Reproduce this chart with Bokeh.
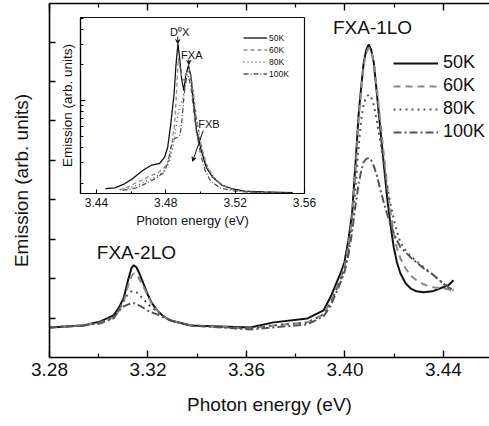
from bokeh.plotting import figure
from bokeh.models import (Range1d, LinearAxis, FixedTicker, Legend, LegendItem,
                          Label, Arrow, VeeHead)
from bokeh.embed import file_html
from bokeh.resources import INLINE

FONT = "Liberation Sans"

# ---------------- main spectrum data ----------------
temps = ["50K", "60K", "80K", "100K"]
energy = [3.2800, 3.2938, 3.3007, 3.3060, 3.3080, 3.3101, 3.3121, 3.3133, 3.3142, 3.3153,
          3.3163, 3.3178, 3.3197, 3.3214, 3.3237, 3.3263, 3.3291, 3.3373, 3.3616, 3.3710,
          3.3848, 3.3913, 3.3941, 3.3982, 3.3998, 3.4014, 3.4029, 3.4043, 3.4056, 3.4067,
          3.4076, 3.4087, 3.4097, 3.4106, 3.4117, 3.4130, 3.4144, 3.4158, 3.4171, 3.4185,
          3.4198, 3.4211, 3.4225, 3.4246, 3.4266, 3.4290, 3.4319, 3.4355, 3.4388, 3.4420,
          3.4441]
em_50K = [0.763, 0.814, 0.916, 1.069, 1.247, 1.501, 2.010, 2.265, 2.341, 2.290,
          2.163, 1.934, 1.628, 1.399, 1.196, 1.043, 0.941, 0.814, 0.763, 0.891,
          0.992, 1.196, 1.527, 2.137, 2.417, 2.977, 3.664, 4.936, 6.209, 6.921,
          7.481, 7.812, 7.939, 7.812, 7.481, 6.667, 5.776, 4.885, 4.071, 3.359,
          2.799, 2.417, 2.137, 1.883, 1.756, 1.679, 1.654, 1.679, 1.756, 1.832,
          1.959]
em_60K = [0.763, 0.814, 0.891, 1.018, 1.170, 1.399, 1.858, 2.061, 2.137, 2.112,
          2.010, 1.832, 1.603, 1.374, 1.196, 1.043, 0.941, 0.814, 0.738, 0.814,
          0.891, 1.094, 1.399, 2.010, 2.290, 2.850, 3.537, 4.758, 6.081, 6.845,
          7.405, 7.735, 7.863, 7.786, 7.506, 6.794, 5.980, 5.140, 4.377, 3.690,
          3.155, 2.774, 2.519, 2.265, 2.087, 1.959, 1.858, 1.781, 1.756, 1.730,
          1.679]
em_80K = [0.763, 0.814, 0.891, 1.018, 1.196, 1.450, 1.628, 1.679, 1.679, 1.654,
          1.603, 1.501, 1.374, 1.272, 1.170, 1.043, 0.941, 0.814, 0.738, 0.814,
          0.891, 1.094, 1.374, 1.959, 2.265, 2.723, 3.359, 4.300, 5.394, 6.081,
          6.438, 6.616, 6.667, 6.616, 6.412, 5.980, 5.471, 4.885, 4.351, 3.893,
          3.511, 3.181, 2.926, 2.723, 2.570, 2.443, 2.290, 2.112, 1.934, 1.781,
          1.705]
em_100K = [0.763, 0.814, 0.865, 0.992, 1.170, 1.298, 1.349, 1.374, 1.374, 1.361,
           1.323, 1.272, 1.196, 1.145, 1.094, 1.018, 0.941, 0.814, 0.712, 0.763,
           0.840, 1.043, 1.298, 1.908, 2.163, 2.595, 3.181, 3.868, 4.427, 4.758,
           4.962, 5.038, 5.064, 5.013, 4.860, 4.606, 4.249, 3.919, 3.639, 3.384,
           3.155, 2.977, 2.799, 2.672, 2.545, 2.417, 2.265, 2.112, 1.934, 1.781,
           1.705]
main_ticks = [3.28, 3.32, 3.36, 3.40, 3.44]
main_minor = [3.30, 3.34, 3.38, 3.42]
main_tick_labels = ["3.28", "3.32", "3.36", "3.40", "3.44"]
main_y_ticks = [1, 2, 3, 4, 5, 6, 7, 8]
peak_names = ["FXA-2LO", "FXA-1LO"]
peak_x = [3.3153, 3.4112]
peak_y = [2.67, 8.37]

# ---------------- inset data (log intensity) ----------------
ins_x_50K = [3.4451, 3.4506, 3.4562, 3.4608, 3.4654, 3.4682, 3.4719, 3.4765, 3.4793, 3.4811,
             3.4829, 3.4848, 3.4858, 3.4870, 3.4880, 3.4891, 3.4904, 3.4915, 3.4931, 3.4944,
             3.4959, 3.4977, 3.5005, 3.5033, 3.5070, 3.5125, 3.5181, 3.5254, 3.5365, 3.5531]
ins_y_50K = [0.179, 0.182, 0.197, 0.217, 0.247, 0.264, 0.284, 0.294, 0.331, 0.402,
             0.638, 1.146, 1.942, 3.024, 2.270, 1.536, 1.215, 1.628, 1.980, 1.628,
             1.000, 0.557, 0.377, 0.272, 0.224, 0.191, 0.179, 0.171, 0.168, 0.166]
ins_x_60K = [3.4534, 3.4589, 3.4635, 3.4682, 3.4700, 3.4756, 3.4793, 3.4817, 3.4833, 3.4850,
             3.4861, 3.4872, 3.4883, 3.4894, 3.4902, 3.4914, 3.4933, 3.4944, 3.4961, 3.4977,
             3.5005, 3.5033, 3.5071, 3.5127, 3.5199, 3.5310, 3.5531]
ins_y_60K = [0.175, 0.187, 0.203, 0.218, 0.227, 0.245, 0.271, 0.310, 0.415, 0.614,
             1.102, 2.270, 1.867, 1.536, 1.477, 1.661, 1.867, 1.661, 1.102, 0.704,
             0.415, 0.292, 0.227, 0.191, 0.173, 0.166, 0.163]
ins_x_80K = [3.4534, 3.4589, 3.4654, 3.4700, 3.4756, 3.4793, 3.4822, 3.4844, 3.4866, 3.4883,
             3.4897, 3.4911, 3.4927, 3.4941, 3.4955, 3.4972, 3.4994, 3.5016, 3.5049, 3.5105,
             3.5171, 3.5254, 3.5420, 3.5531]
ins_y_80K = [0.176, 0.181, 0.197, 0.212, 0.231, 0.255, 0.310, 0.415, 0.704, 0.925,
             1.000, 1.340, 1.761, 1.694, 1.264, 0.791, 0.476, 0.342, 0.250, 0.202,
             0.180, 0.169, 0.165, 0.163]
ins_x_100K = [3.4551, 3.4628, 3.4682, 3.4737, 3.4789, 3.4811, 3.4828, 3.4844, 3.4866, 3.4883,
              3.4894, 3.4905, 3.4919, 3.4930, 3.4944, 3.4961, 3.4977, 3.4999, 3.5027, 3.5060,
              3.5116, 3.5199, 3.5365, 3.5531]
ins_y_100K = [0.173, 0.182, 0.197, 0.217, 0.245, 0.292, 0.392, 0.467, 0.486, 0.515,
              0.704, 1.102, 1.536, 1.597, 1.340, 0.823, 0.536, 0.362, 0.255, 0.206,
              0.181, 0.171, 0.165, 0.163]
ins_ticks = [3.44, 3.48, 3.52, 3.56]
ins_minor = [3.46, 3.50, 3.54]
ins_y_major = [1.0]
ins_y_minor = [0.2, 0.3, 0.4, 0.5, 0.6, 0.7, 0.8, 0.9, 2.0, 3.0, 4.0, 5.0]
ins_names = ["D\u2070X", "FXA", "FXB"]
ins_lab_x = [3.4880, 3.4950, 3.5049]
ins_lab_y = [3.84, 2.45, 0.638]
ins_arrow_from = [(3.4869, 3.49), (3.4933, 2.23), (3.5016, 0.557)]
ins_arrow_to = [(3.4869, 3.04), (3.4933, 2.02), (3.4955, 0.306)]

styles_main = [dict(color="#111111", line_width=2.0, line_dash="solid"),
               dict(color="#8a8a8a", line_width=2.0, line_dash="7 5"),
               dict(color="#555555", line_width=2.0, line_dash="2 4"),
               dict(color="#555555", line_width=2.0, line_dash="8 3 2 3")]
styles_ins = [dict(color="#111111", line_width=1.3, line_dash="solid"),
              dict(color="#8a8a8a", line_width=1.3, line_dash="4 3"),
              dict(color="#555555", line_width=1.3, line_dash="1 3"),
              dict(color="#555555", line_width=1.3, line_dash="5 2 1 2")]


def hide_labels(axis):
    axis.major_label_text_font_size = "1px"
    axis.major_label_text_color = None
    axis.major_label_standoff = 0


# ---------------- main figure ----------------
p = figure(width=489, height=424, x_range=Range1d(3.28, 3.4587), y_range=Range1d(0, 8.98),
           output_backend="svg", toolbar_location=None,
           min_border_left=49, min_border_right=0, min_border_top=3, min_border_bottom=67)
p.outline_line_color = None
p.grid.visible = False
p.background_fill_color = "white"
p.border_fill_color = "white"

xa = p.xaxis[0]
xa.ticker = FixedTicker(ticks=main_ticks, minor_ticks=main_minor)
xa.major_label_overrides = {t: s for t, s in zip(main_ticks, main_tick_labels)}
xa.major_tick_in = 7
xa.major_tick_out = 0
xa.minor_tick_in = 4
xa.minor_tick_out = 0
xa.axis_line_width = 1.6
xa.major_tick_line_width = 1.4
xa.minor_tick_line_width = 1.2
xa.major_label_text_font = FONT
xa.major_label_text_font_size = "19px"
xa.major_label_text_color = "#111111"
xa.major_label_standoff = 5
xa.axis_label = "Photon energy (eV)"
xa.axis_label_text_font = FONT
xa.axis_label_text_font_size = "19px"
xa.axis_label_text_font_style = "normal"
xa.axis_label_text_color = "#111111"
xa.axis_label_standoff = 15

ya = p.yaxis[0]
ya.ticker = FixedTicker(ticks=main_y_ticks, minor_ticks=[])
ya.major_tick_in = 6
ya.major_tick_out = 0
ya.minor_tick_in = 0
ya.minor_tick_out = 0
ya.axis_line_width = 1.6
ya.major_tick_line_width = 1.4
hide_labels(ya)
ya.axis_label = "Emission (arb. units)"
ya.axis_label_text_font = FONT
ya.axis_label_text_font_size = "19px"
ya.axis_label_text_font_style = "normal"
ya.axis_label_text_color = "#111111"
ya.axis_label_standoff = 18

top = LinearAxis(ticker=FixedTicker(ticks=main_ticks, minor_ticks=main_minor),
                 major_tick_in=7, major_tick_out=0, minor_tick_in=4, minor_tick_out=0,
                 axis_line_width=1.6, major_tick_line_width=1.4, minor_tick_line_width=1.2)
hide_labels(top)
p.add_layout(top, "above")

main_series = [em_50K, em_60K, em_80K, em_100K]
items = []
for name, ys, st in zip(temps, main_series, styles_main):
    r = p.line(energy, ys, line_color=st["color"], line_width=st["line_width"],
               line_dash=st["line_dash"])
    items.append(LegendItem(label=name, renderers=[r]))

leg = Legend(items=items, location=(344, 215), glyph_width=45, glyph_height=20,
             label_height=20, spacing=2, padding=0, margin=0, label_standoff=5,
             label_text_font=FONT, label_text_font_size="18px", label_text_color="#111111",
             border_line_color=None, background_fill_alpha=0)
p.add_layout(leg)

for name, x, y in zip(peak_names, peak_x, peak_y):
    p.add_layout(Label(x=x, y=y, text=name, text_align="center", text_baseline="middle",
                       text_font=FONT, text_font_size="19px", text_color="#111111"))

# ---------------- inset figure ----------------
ins = figure(width=265, height=218, x_range=Range1d(3.4308, 3.56), y_range=Range1d(0.163, 5.05),
             y_axis_type="log", output_backend="svg", toolbar_location=None,
             min_border_left=25, min_border_right=16, min_border_top=0, min_border_bottom=42,
             styles={"position": "absolute", "left": "55px", "top": "17px"})
ins.grid.visible = False
ins.outline_line_color = "#111111"
ins.outline_line_width = 1.2
ins.background_fill_color = "white"
ins.border_fill_color = None

ix = ins.xaxis[0]
ix.ticker = FixedTicker(ticks=ins_ticks, minor_ticks=ins_minor)
ix.major_tick_in = 4
ix.major_tick_out = 0
ix.minor_tick_in = 2
ix.minor_tick_out = 0
ix.axis_line_width = 1.2
ix.major_label_text_font = FONT
ix.major_label_text_font_size = "12px"
ix.major_label_text_color = "#111111"
ix.major_label_standoff = 4
ix.axis_label = "Photon energy (eV)"
ix.axis_label_text_font = FONT
ix.axis_label_text_font_size = "13px"
ix.axis_label_text_font_style = "normal"
ix.axis_label_text_color = "#111111"
ix.axis_label_standoff = 3

iy = ins.yaxis[0]
iy.ticker = FixedTicker(ticks=ins_y_major, minor_ticks=ins_y_minor)
iy.major_tick_in = 5
iy.major_tick_out = 0
iy.minor_tick_in = 3
iy.minor_tick_out = 0
iy.axis_line_width = 1.2
hide_labels(iy)
iy.axis_label = "Emission (arb. units)"
iy.axis_label_text_font = FONT
iy.axis_label_text_font_size = "13.5px"
iy.axis_label_text_font_style = "normal"
iy.axis_label_text_color = "#111111"
iy.axis_label_standoff = 6

ins_series = [(ins_x_50K, ins_y_50K), (ins_x_60K, ins_y_60K),
              (ins_x_80K, ins_y_80K), (ins_x_100K, ins_y_100K)]
iitems = []
for name, (xs, ys), st in zip(temps, ins_series, styles_ins):
    r = ins.line(xs, ys, line_color=st["color"], line_width=st["line_width"],
                 line_dash=st["line_dash"])
    iitems.append(LegendItem(label=name, renderers=[r]))

ileg = Legend(items=iitems, location=(163, 114), glyph_width=24, glyph_height=11,
              label_height=11, spacing=1, padding=0, margin=0, label_standoff=2,
              label_text_font=FONT, label_text_font_size="8.5px", label_text_color="#111111",
              border_line_color=None, background_fill_alpha=0)
ins.add_layout(ileg)

for name, x, y in zip(ins_names, ins_lab_x, ins_lab_y):
    ins.add_layout(Label(x=x, y=y, text=name, text_align="center", text_baseline="middle",
                         text_font=FONT, text_font_size="11px", text_color="#111111"))
for (x0, y0), (x1, y1) in zip(ins_arrow_from, ins_arrow_to):
    ins.add_layout(Arrow(x_start=x0, y_start=y0, x_end=x1, y_end=y1, line_width=1,
                         line_color="#111111",
                         end=VeeHead(size=4, line_color="#111111", line_width=1)))

open("out.html", "w").write(file_html([p, ins], INLINE))
